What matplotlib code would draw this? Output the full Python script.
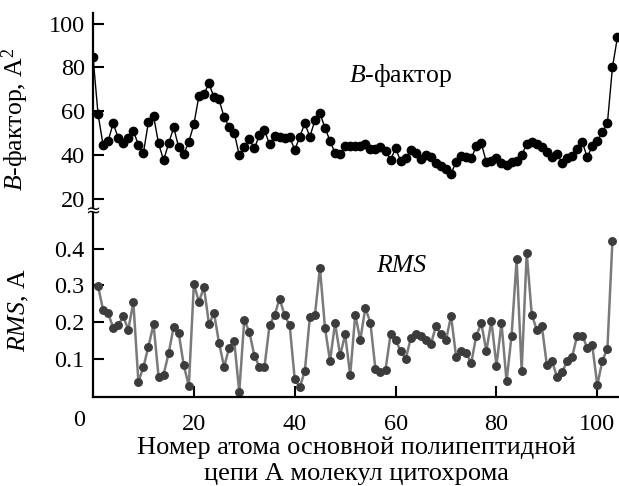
import numpy as np
import matplotlib
matplotlib.use("Agg")
from matplotlib import pyplot as plt

plt.rcParams["font.family"] = ["Liberation Serif", "DejaVu Serif"]
plt.rcParams["mathtext.fontset"] = "custom"
plt.rcParams["mathtext.rm"] = "Liberation Serif"
plt.rcParams["mathtext.it"] = "Liberation Serif:italic"

# B-factor, residues 0..104
bfactor = [85, 58.7, 44.6, 46.4, 54.5, 47.9, 45.3, 47.9, 51.1, 44.6,
           41.1, 55.2, 57.9, 45.3, 37.7, 45.3, 52.6, 43.5, 40.5, 46.1,
           54.0, 67.0, 67.9, 72.7, 66.3, 65.4, 57.2, 52.9, 50.2, 40.0,
           43.8, 47.2, 43.1, 49.1, 51.4, 45.0, 48.5, 48.4, 48.0, 48.4,
           42.3, 48.4, 54.5, 48.4, 55.8, 59.1, 52.4, 46.5, 40.9, 40.6,
           44.1, 44.0, 44.0, 44.3, 45.1, 42.8, 42.8, 43.5, 42.0, 37.8,
           43.1, 37.3, 38.6, 42.1, 41.1, 38.4, 40.0, 39.0, 36.5, 35.0,
           33.5, 31.5, 37.0, 39.5, 39.0, 38.5, 44.0, 45.3, 36.8, 37.2,
           38.8, 36.6, 35.4, 36.7, 37.5, 40.0, 45.0, 46.1, 45.2, 43.7,
           41.5, 39.2, 40.6, 36.6, 38.5, 39.8, 42.9, 46.1, 39.0, 44.2,
           46.5, 50.4, 54.5, 80.0, 94.0]
bfactor_x = np.arange(len(bfactor))

# RMS, residues 1..103
rms = [0.298, 0.234, 0.225, 0.185, 0.192, 0.216, 0.180, 0.255, 0.038, 0.079,
       0.134, 0.195, 0.052, 0.058, 0.116, 0.188, 0.170, 0.083, 0.027, 0.304,
       0.256, 0.295, 0.195, 0.225, 0.143, 0.079, 0.131, 0.149, 0.011, 0.207,
       0.174, 0.109, 0.079, 0.078, 0.192, 0.219, 0.264, 0.219, 0.192, 0.045,
       0.024, 0.067, 0.214, 0.219, 0.348, 0.185, 0.095, 0.198, 0.110, 0.167,
       0.056, 0.221, 0.152, 0.239, 0.199, 0.073, 0.065, 0.071, 0.167, 0.152,
       0.122, 0.100, 0.156, 0.168, 0.162, 0.152, 0.141, 0.189, 0.167, 0.152,
       0.217, 0.107, 0.121, 0.116, 0.089, 0.164, 0.197, 0.122, 0.204, 0.082,
       0.198, 0.040, 0.164, 0.371, 0.069, 0.389, 0.221, 0.179, 0.190, 0.083,
       0.095, 0.052, 0.064, 0.094, 0.105, 0.164, 0.164, 0.131, 0.137, 0.029,
       0.096, 0.128, 0.422]
rms_x = np.arange(1, len(rms) + 1)

xticks = [20, 40, 60, 80, 100]
bf_ticks = [20, 40, 60, 80, 100]
rms_ticks = [0.1, 0.2, 0.3, 0.4]

W, H = 619, 486
fig = plt.figure(figsize=(W / 100, H / 100), dpi=100)

def px_axes(x0, y0, x1, y1):
    return fig.add_axes([x0 / W, 1 - y1 / H, (x1 - x0) / W, (y1 - y0) / H])

ax_top = px_axes(93, 12.7, 619, 207)
ax_bot = px_axes(93, 213, 619, 397)

fs_tick = 17.5
fs = 19
for ax in (ax_top, ax_bot):
    ax.set_xlim(0, 104.3)
    for s in ("top", "right"):
        ax.spines[s].set_visible(False)
    ax.spines["left"].set_linewidth(1.6)
    ax.spines["bottom"].set_linewidth(1.6)
    ax.tick_params(direction="in", length=8, width=1.5, labelsize=fs_tick, pad=6)
    ax.tick_params(axis="x", pad=12)
    ax.patch.set_alpha(0)

# top panel
ax_top.plot(bfactor_x, bfactor, color="black", lw=1.0, marker="o",
            ms=6, mfc="black", mec="black")
ax_top.set_ylim(16.3, 105)
ax_top.set_yticks(bf_ticks)
ax_top.spines["bottom"].set_visible(False)
ax_top.tick_params(axis="x", bottom=False, labelbottom=False)
ax_top.set_ylabel(r"$B$-фактор, A$^2$", fontsize=18.5)
ax_top.yaxis.set_label_coords(-0.118, 0.45)
ax_top.text(61, 76.5, r"$B$-фактор", fontsize=18.5, ha="center", va="center")

# bottom panel
ax_bot.plot(rms_x, rms, color="#7a7a7a", lw=1.8, marker="o",
            ms=5.4, mfc="#3c3c3c", mec="#3c3c3c")
ax_bot.set_ylim(-0.003, 0.497)
ax_bot.set_yticks(rms_ticks)
ax_bot.set_yticklabels([f"{v:.1f}" for v in rms_ticks])
ax_bot.set_xticks(xticks)
ax_bot.set_ylabel(r"$RMS$, A", fontsize=18.5)
ax_bot.yaxis.set_label_coords(-0.118, 0.47)
ax_bot.text(61.2, 0.352, "RMS", fontsize=18.5, fontstyle="italic",
            ha="center", va="center")
ax_bot.annotate("0", xy=(0, 0), xycoords="axes fraction", xytext=(-14, -13),
                textcoords="offset pixels", ha="center", va="top", fontsize=fs_tick)
ax_bot.set_xlabel("Номер атома основной полипептидной\nцепи А молекул цитохрома",
                  fontsize=fs, linespacing=1.22)
ax_bot.xaxis.set_label_coords(0.5, -0.215)

# axis break mark
fig.text(93 / W, 1 - 211 / H, "≈", fontsize=13, ha="center", va="center",
         family="DejaVu Sans")

fig.savefig("out.png", dpi=100)
